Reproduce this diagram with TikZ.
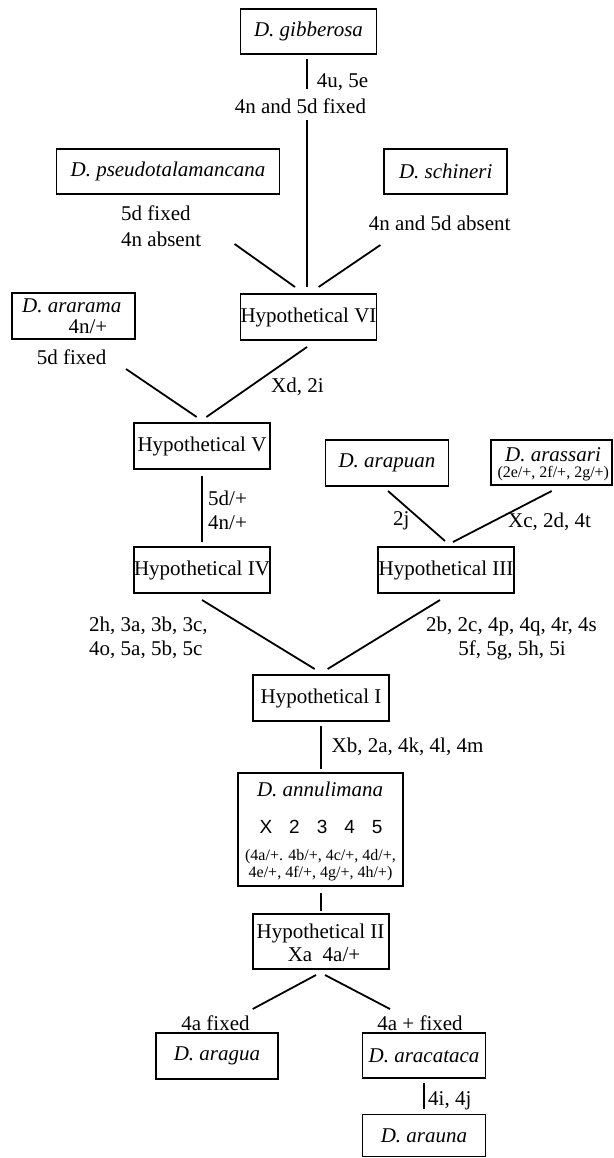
\documentclass[tikz,border=0pt]{standalone}
\usepackage{fontspec}
\setmainfont{Liberation Serif}
\newfontfamily\digitfont{Liberation Sans}
\begin{document}
\begin{tikzpicture}[x=1pt,y=-1pt,
  bx/.style={draw,line width=1.8pt,inner sep=0pt,font=\fontsize{21}{21}\selectfont},
  lbl/.style={inner sep=0pt,font=\fontsize{21}{21}\selectfont},
  sml/.style={inner sep=0pt,font=\fontsize{16}{16}\selectfont},
  ln/.style={line width=1.8pt}]
\useasboundingbox (0,0) rectangle (613,1158);

% boxes
\node[bx,minimum width=136pt,minimum height=45pt] (gib) at (308.5,31.5) {\itshape D. gibberosa};
\node[bx,minimum width=223pt,minimum height=45pt] (pseudo) at (168,171.5) {\itshape D. pseudotalamancana};
\node[bx,minimum width=123pt,minimum height=45pt] (schin) at (445.7,171.5) {\itshape D. schineri};
\node[bx,minimum width=136pt,minimum height=46pt] (hyp6) at (308.5,317) {Hypothetical VI};
\node[bx,minimum width=123pt,minimum height=46pt] (arar) at (73.7,316) {};
\node[lbl] (arar-t1) at (71.7,306) {\itshape D. ararama};
\node[lbl] (arar-t2) at (88,327) {4n/+};
\node[bx,minimum width=136pt,minimum height=46pt] (hyp5) at (202,446) {Hypothetical V};
\node[bx,minimum width=136pt,minimum height=46pt] (hyp4) at (202,570) {Hypothetical IV};
\node[bx,minimum width=123pt,minimum height=46pt] (arap) at (387,463) {\itshape D. arapuan};
\node[bx,minimum width=121pt,minimum height=45pt] (aras) at (551.5,462.5) {};
\node[lbl] (aras-t1) at (553,455) {\itshape D. arassari};
\node[sml] (aras-t2) at (553.3,473.5) {(2e/+, 2f/+, 2g/+)};
\node[bx,minimum width=136pt,minimum height=46pt] (hyp3) at (446,570) {Hypothetical III};
\node[bx,minimum width=136pt,minimum height=46pt] (hyp1) at (321,698) {Hypothetical I};
\node[bx,minimum width=165pt,minimum height=113pt] (ann) at (320.5,829.5) {};
\node[lbl] (ann-t1) at (320,789) {\itshape D. annulimana};
\node[inner sep=0pt,font=\digitfont\fontsize{19}{19}\selectfont] (ann-t2) at (321,827)
  {X\hspace{17pt}2\hspace{17pt}3\hspace{17pt}4\hspace{17pt}5};
\node[sml] (ann-t3) at (320.5,857) {(4a/+. 4b/+, 4c/+, 4d/+,};
\node[sml] (ann-t4) at (320.5,874) {4e/+, 4f/+, 4g/+, 4h/+)};
\node[bx,minimum width=136pt,minimum height=55pt] (hyp2) at (321,941.5) {};
\node[lbl] (hyp2-t1) at (320.5,933) {Hypothetical II};
\node[lbl] (hyp2-t2) at (324,955) {Xa\ \ 4a/+};
\node[bx,minimum width=122pt,minimum height=46pt] (arag) at (217,1056) {\itshape D. aragua};
\node[bx,minimum width=123pt,minimum height=45pt] (arac) at (424,1055.5) {\itshape D. aracataca};
\node[bx,minimum width=123pt,minimum height=42pt] (arau) at (424,1135.5) {\itshape D. arauna};

% labels
\node[lbl,anchor=west] (l1) at (316.7,82) {4u, 5e};
\node[lbl,anchor=west] (l2) at (234.6,106) {4n and 5d fixed};
\node[lbl,anchor=west] (l3) at (121,213) {5d fixed};
\node[lbl,anchor=west] (l4) at (121,239) {4n absent};
\node[lbl,anchor=west] (l5) at (368.6,223) {4n and 5d absent};
\node[lbl,anchor=west] (l6) at (36.7,357.5) {5d fixed};
\node[lbl,anchor=west] (l7) at (271,387) {Xd, 2i};
\node[lbl,anchor=west] (l8) at (208,498) {5d/+};
\node[lbl,anchor=west] (l9) at (208,523) {4n/+};
\node[lbl,anchor=west] (l10) at (393,521) {2j};
\node[lbl,anchor=west] (l11) at (508,522) {Xc, 2d, 4t};
\node[lbl,anchor=west] (l12) at (89,626) {2h, 3a, 3b, 3c,};
\node[lbl,anchor=west] (l13) at (89,650) {4o, 5a, 5b, 5c};
\node[lbl] (l14) at (511.5,626) {2b, 2c, 4p, 4q, 4r, 4s};
\node[lbl] (l15) at (512,650) {5f, 5g, 5h, 5i};
\node[lbl,anchor=west] (l16) at (331.5,747) {Xb, 2a, 4k, 4l, 4m};
\node[lbl] (l17) at (215.5,1023) {4a fixed};
\node[lbl] (l18) at (420,1023) {4a + fixed};
\node[lbl,anchor=west] (l19) at (428,1101) {4i, 4j};

% connector end points
\coordinate (g0) at (307,59);
\coordinate (g1) at (307,89);
\coordinate (g2) at (307,120);
\coordinate (g3) at (307,287);
\coordinate (p0) at (234.6,244);
\coordinate (p1) at (295,287);
\coordinate (s0) at (380.4,245);
\coordinate (s1) at (318.6,287);
\coordinate (a0) at (126,369);
\coordinate (a1) at (196.7,417);
\coordinate (h60) at (307,347);
\coordinate (h61) at (206.4,417);
\coordinate (h50) at (202,476);
\coordinate (h51) at (202,542);
\coordinate (ap0) at (388,491);
\coordinate (ap1) at (445,541);
\coordinate (as0) at (551.7,491);
\coordinate (as1) at (453,542);
\coordinate (h40) at (202,600);
\coordinate (h41) at (314.7,669);
\coordinate (h30) at (440,600);
\coordinate (h31) at (327.6,669);
\coordinate (h10) at (321,726);
\coordinate (h11) at (321,769);
\coordinate (an0) at (321,893);
\coordinate (an1) at (321,911);
\coordinate (h20) at (316,975);
\coordinate (h21) at (252.7,1009);
\coordinate (h22) at (325,975);
\coordinate (h23) at (390,1009);
\coordinate (ac0) at (424,1083);
\coordinate (ac1) at (424,1109);

% connectors
\draw[ln] (g0) -- (g1);
\draw[ln] (g2) -- (g3);
\draw[ln] (p0) -- (p1);
\draw[ln] (s0) -- (s1);
\draw[ln] (a0) -- (a1);
\draw[ln] (h60) -- (h61);
\draw[ln] (h50) -- (h51);
\draw[ln] (ap0) -- (ap1);
\draw[ln] (as0) -- (as1);
\draw[ln] (h40) -- (h41);
\draw[ln] (h30) -- (h31);
\draw[ln] (h10) -- (h11);
\draw[ln] (an0) -- (an1);
\draw[ln] (h20) -- (h21);
\draw[ln] (h22) -- (h23);
\draw[ln] (ac0) -- (ac1);
\end{tikzpicture}
\end{document}
